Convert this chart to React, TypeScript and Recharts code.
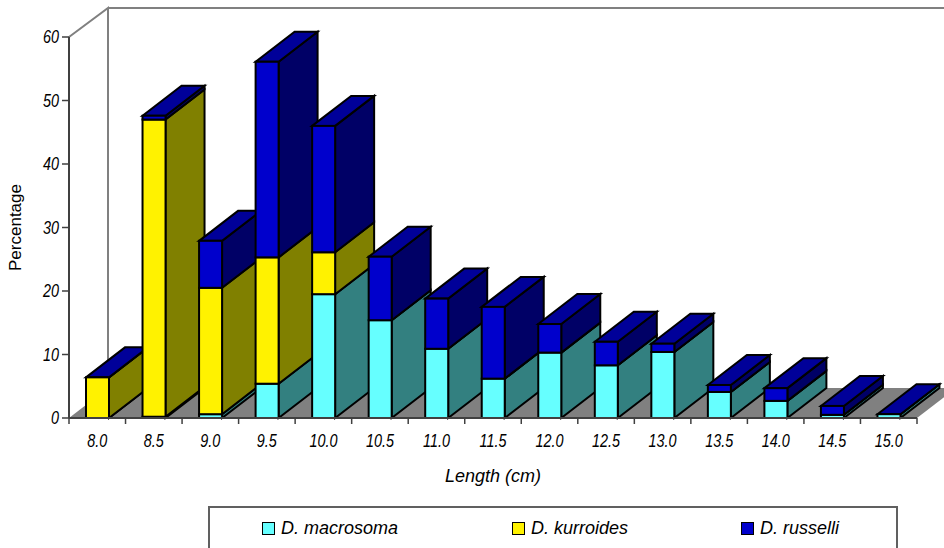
import React from 'react';
import { BarChart, Bar, XAxis, YAxis, Legend, Label } from 'recharts';

const lengths = ['8.0', '8.5', '9.0', '9.5', '10.0', '10.5', '11.0', '11.5', '12.0', '12.5', '13.0', '13.5', '14.0', '14.5', '15.0'];
const macrosoma = [0, 0.2, 0.6, 5.4, 19.5, 15.4, 10.9, 6.2, 10.3, 8.3, 10.4, 4.1, 2.7, 0.5, 0.6];
const kurroides = [6.4, 46.8, 19.9, 19.9, 6.6, 0, 0, 0, 0, 0, 0, 0, 0, 0, 0];
const russelli = [0, 0.6, 7.4, 30.8, 19.9, 10.0, 7.9, 11.3, 4.5, 3.7, 1.3, 1.1, 2.0, 1.4, 0];
const yTicks = [0, 10, 20, 30, 40, 50, 60];

const data = lengths.map((length, i) => ({
  length,
  macrosoma: macrosoma[i],
  kurroides: kurroides[i],
  russelli: russelli[i],
}));

const WIDTH = 944;
const HEIGHT = 548;
const LEFT = 69;
const TOP = 37;
const RIGHT = 917;
const BOTTOM = 418;
const STEP = (RIGHT - LEFT) / lengths.length;

// how far the fake 3D extrusion goes back
const DX = 39;
const DY = 30;

const FONT = '"Liberation Sans", Arial, sans-serif';
const TOP_FILL = '#000099';

const sideFace = (fill: string, withTop: boolean) => (props: any) => {
  const { x, y, width, height } = props;
  const r = x + width;
  return (
    <g stroke="#000" strokeWidth={2} strokeLinejoin="miter">
      <polygon
        points={`${r},${y} ${r + DX},${y - DY} ${r + DX},${y + height - DY} ${r},${y + height}`}
        fill={fill}
      />
      {withTop && (
        <polygon
          points={`${x},${y} ${x + DX},${y - DY} ${r + DX},${y - DY} ${r},${y}`}
          fill={TOP_FILL}
        />
      )}
    </g>
  );
};

const frontFace = (props: any) => {
  const { x, y, width, height, fill } = props;
  return <rect x={x} y={y} width={width} height={height} fill={fill} stroke="#000" strokeWidth={2} />;
};

// back walls and floor behind the bars
const Backdrop = () => (
  <g>
    <polygon
      points={`${LEFT},${BOTTOM} ${LEFT + DX},${BOTTOM - DY} ${RIGHT + DX},${BOTTOM - DY} ${RIGHT},${BOTTOM}`}
      fill="#808080"
    />
    <polyline
      points={`${LEFT},${TOP} ${LEFT + DX},${TOP - DY + 1} ${LEFT + DX},${BOTTOM - DY}`}
      fill="none"
      stroke="#808080"
      strokeWidth={2}
    />
    <line x1={LEFT + DX} y1={TOP - DY + 1} x2={WIDTH} y2={TOP - DY + 1} stroke="#808080" strokeWidth={2} />
  </g>
);

// tick numbers are narrow and tall, so squeeze them sideways
const TickText = ({ x, y, anchor, children }: any) => (
  <text
    transform={`translate(${x},${y}) scale(0.8,1)`}
    textAnchor={anchor}
    fontFamily={FONT}
    fontStyle="italic"
    fontSize={18}
    fill="#000"
  >
    {children}
  </text>
);

const LengthTick = (props: any) => {
  const { x, payload, index } = props;
  const left = x - STEP / 2;
  return (
    <g>
      <line x1={left} y1={BOTTOM} x2={left} y2={BOTTOM + 6} stroke="#404040" strokeWidth={1.5} />
      {index === lengths.length - 1 && (
        <line x1={left + STEP} y1={BOTTOM} x2={left + STEP} y2={BOTTOM + 6} stroke="#404040" strokeWidth={1.5} />
      )}
      <TickText x={x} y={BOTTOM + 29} anchor="middle">
        {payload.value}
      </TickText>
    </g>
  );
};

const PercentTick = ({ y, payload }: any) => (
  <TickText x={LEFT - 10} y={y + 6} anchor="end">
    {payload.value}
  </TickText>
);

const SpeciesLegend = ({ payload }: any) => (
  <div
    style={{
      position: 'relative',
      width: 686,
      height: 60,
      border: '2px solid #606060',
      background: '#fff',
      fontFamily: FONT,
      fontStyle: 'italic',
      fontSize: 18,
      color: '#000',
    }}
  >
    {(payload || [])
      .filter((entry: any) => entry.type !== 'none')
      .map((entry: any, i: number) => (
        <div
          key={entry.value}
          style={{ position: 'absolute', left: [52, 302, 531][i], top: 10, display: 'flex', alignItems: 'center', gap: 6 }}
        >
          <span
            style={{
              width: 13,
              height: 13,
              boxSizing: 'border-box',
              background: entry.color,
              border: '1.5px solid #000',
              display: 'block',
            }}
          />
          <span>{entry.value}</span>
        </div>
      ))}
  </div>
);

export default function App() {
  return (
    <div style={{ width: WIDTH, height: HEIGHT, overflow: 'hidden' }}>
      <style>{'body{margin:0;overflow:hidden}'}</style>
      <BarChart
        width={WIDTH}
        height={HEIGHT}
        data={data}
        barSize={23}
        margin={{ top: TOP, right: WIDTH - RIGHT, bottom: HEIGHT - BOTTOM - 30, left: LEFT - 40 }}
      >
        <Backdrop />
        <XAxis xAxisId="depth" dataKey="length" hide height={0} />
        <YAxis
          width={40}
          domain={[0, 60]}
          ticks={yTicks}
          interval={0}
          tickSize={7}
          tick={PercentTick}
          axisLine={{ stroke: '#404040', strokeWidth: 2 }}
          tickLine={{ stroke: '#404040', strokeWidth: 1.5 }}
        >
          <Label
            value="Percentage"
            angle={-90}
            position="insideLeft"
            offset={-14}
            style={{ fontFamily: FONT, fontSize: 17, fill: '#000', textAnchor: 'middle' }}
          />
        </YAxis>

        {/* depth faces go first so the next bar's front can cover them */}
        <Bar xAxisId="depth" dataKey="macrosoma" stackId="depth" legendType="none" isAnimationActive={false} shape={sideFace('#338080', false)} />
        <Bar xAxisId="depth" dataKey="kurroides" stackId="depth" legendType="none" isAnimationActive={false} shape={sideFace('#808000', false)} />
        <Bar xAxisId="depth" dataKey="russelli" stackId="depth" legendType="none" isAnimationActive={false} shape={sideFace('#000066', true)} />

        <XAxis
          xAxisId="front"
          dataKey="length"
          height={30}
          interval={0}
          tickLine={false}
          tick={LengthTick}
          axisLine={{ stroke: '#404040', strokeWidth: 2 }}
        >
          <Label
            value="Length (cm)"
            position="bottom"
            offset={21}
            style={{ fontFamily: FONT, fontStyle: 'italic', fontSize: 18, fill: '#000' }}
          />
        </XAxis>
        <Bar xAxisId="front" dataKey="macrosoma" name="D. macrosoma" stackId="front" fill="#66FFFF" isAnimationActive={false} shape={frontFace} />
        <Bar xAxisId="front" dataKey="kurroides" name="D. kurroides" stackId="front" fill="#FFF200" isAnimationActive={false} shape={frontFace} />
        <Bar xAxisId="front" dataKey="russelli" name="D. russelli" stackId="front" fill="#0000CC" isAnimationActive={false} shape={frontFace} />

        <Legend
          layout="horizontal"
          verticalAlign="middle"
          itemSorter={null}
          content={SpeciesLegend}
          wrapperStyle={{ left: 208, top: 506, width: 690, height: 60 }}
        />
      </BarChart>
    </div>
  );
}
